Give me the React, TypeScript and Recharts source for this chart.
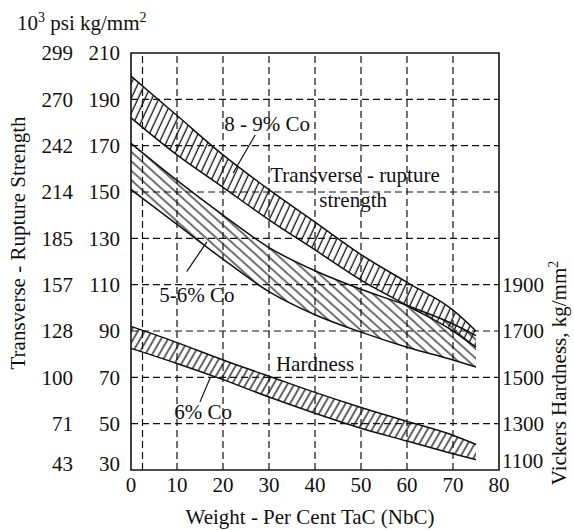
import {
  Area,
  ComposedChart,
  ReferenceArea,
  ReferenceDot,
  ReferenceLine,
  XAxis,
  YAxis,
} from "recharts";

const FONT = '"Liberation Serif", "Times New Roman", serif';
const INK = "#111";

// weight per cent TaC (NbC)
const pctTaC = [0, 10, 20, 30, 40, 50, 60, 70, 75];

// transverse-rupture strength, kg/mm2
const co89Upper = [200, 183, 166, 151, 137, 123, 111, 99, 90];
const co89Lower = [182, 166, 152, 138, 125, 112, 101, 90, 83];
const co56Upper = [171, 155, 140, 126, 116, 108, 101, 93, 88];
const co56Lower = [151, 136, 121, 107, 97, 89.5, 83, 77.5, 74.5];

// Vickers hardness, kg/mm2 (6% Co)
const hvUpper = [1720, 1650, 1575, 1505, 1435, 1370, 1310, 1250, 1210];
const hvLower = [1625, 1560, 1490, 1415, 1345, 1280, 1225, 1170, 1145];

const xTicks = [0, 10, 20, 30, 40, 50, 60, 70, 80];
const kgTicks = [30, 50, 70, 90, 110, 130, 150, 170, 190, 210];
const psiLabels = ["43", "71", "100", "128", "157", "185", "214", "242", "270", "299"];
const hvTicks = [1100, 1300, 1500, 1700, 1900];

const gridX = [2.5, 10, 20, 30, 40, 50, 60, 70];
const gridY = [50, 70, 90, 110, 130, 150, 170, 190];

const data = pctTaC.map((x, i) => ({
  x,
  co89: [co89Lower[i], co89Upper[i]],
  co56: [co56Lower[i], co56Upper[i]],
  hv: [hvLower[i], hvUpper[i]],
}));

const notes = [
  { x: 29.6, y: 179.3, text: "8 - 9% Co" },
  { x: 48.7, y: 157.3, text: "Transverse - rupture" },
  { x: 48.3, y: 146.5, text: "strength" },
  { x: 14.3, y: 105.5, text: "5-6% Co" },
  { x: 40, y: 75.8, text: "Hardness" },
  { x: 15.7, y: 55, text: "6% Co" },
];

const leaders = [
  [{ x: 27, y: 174.6 }, { x: 22.2, y: 158.2 }],
  [{ x: 16.5, y: 128.5 }, { x: 12.1, y: 115.6 }],
  [{ x: 17.2, y: 69.7 }, { x: 15, y: 59.4 }],
];

const txt = { fontFamily: FONT, fontSize: 21, fill: INK };

function LeftTick({ x, y, payload }: any) {
  const i = kgTicks.indexOf(payload.value);
  const shift = payload.value === 30 ? -6 : 0;
  return (
    <g>
      <text {...txt} x={x - 11} y={y + shift} dy="0.35em" textAnchor="end">
        {payload.value}
      </text>
      <text {...txt} x={x - 58} y={y + shift} dy="0.35em" textAnchor="end">
        {psiLabels[i]}
      </text>
    </g>
  );
}

function RightTick({ x, y, payload }: any) {
  const shift = payload.value === 1100 ? -9 : 0;
  return (
    <text {...txt} x={x + 3} y={y + shift} dy="0.35em" textAnchor="start">
      {payload.value}
    </text>
  );
}

function BottomTick({ x, y, payload }: any) {
  return (
    <text {...txt} x={x} y={y + 14.5} dy="0.35em" textAnchor="middle">
      {payload.value}
    </text>
  );
}

function Note({ cx, cy, text }: any) {
  return (
    <text {...txt} x={cx} y={cy} dy="0.35em" textAnchor="middle">
      {text}
    </text>
  );
}

export default function App() {
  return (
    <div style={{ position: "absolute", left: 0, top: 0, width: 574, height: 530, background: "#fff" }}>
      <ComposedChart
        width={574}
        height={530}
        data={data}
        margin={{ top: 53, right: 0, bottom: 0, left: 0 }}
      >
        <defs>
          <pattern id="hatch89" width="6.3" height="10" patternUnits="userSpaceOnUse" patternTransform="rotate(25)">
            <line x1="3" y1="0" x2="3" y2="10" stroke={INK} strokeWidth={1.3} />
          </pattern>
          <pattern id="hatch56" width="7" height="10" patternUnits="userSpaceOnUse" patternTransform="rotate(-48)">
            <line x1="3" y1="0" x2="3" y2="10" stroke={INK} strokeWidth={1.2} />
          </pattern>
          <pattern id="hatchHv" width="6" height="10" patternUnits="userSpaceOnUse" patternTransform="rotate(30)">
            <line x1="3" y1="0" x2="3" y2="10" stroke={INK} strokeWidth={1.3} />
          </pattern>
        </defs>

        <XAxis
          dataKey="x"
          type="number"
          domain={[0, 80]}
          ticks={xTicks}
          height={60}
          tickLine={false}
          tickSize={0}
          tickMargin={0}
          axisLine={false}
          tick={<BottomTick />}
        />
        <YAxis
          yAxisId="kg"
          orientation="left"
          type="number"
          domain={[30, 210]}
          ticks={kgTicks}
          width={131}
          tickLine={false}
          tickSize={0}
          tickMargin={0}
          axisLine={false}
          interval={0}
          tick={<LeftTick />}
        />
        <YAxis
          yAxisId="hv"
          orientation="right"
          type="number"
          domain={[1100, 2900]}
          ticks={hvTicks}
          width={75}
          tickLine={false}
          tickSize={0}
          tickMargin={0}
          axisLine={false}
          interval={0}
          tick={<RightTick />}
        />

        {gridX.map((gx) => (
          <ReferenceLine key={"gx" + gx} yAxisId="kg" x={gx} stroke={INK} strokeWidth={1.2} strokeDasharray="7 4" />
        ))}
        {gridY.map((gy) => (
          <ReferenceLine key={"gy" + gy} yAxisId="kg" y={gy} stroke={INK} strokeWidth={1.2} strokeDasharray="7 4" />
        ))}

        <Area
          yAxisId="kg"
          type="monotone"
          dataKey="co89"
          stroke={INK}
          strokeWidth={1.5}
          fill="url(#hatch89)"
          fillOpacity={1}
          dot={false}
          activeDot={false}
          isAnimationActive={false}
        />
        <Area
          yAxisId="kg"
          type="monotone"
          dataKey="co56"
          stroke={INK}
          strokeWidth={1.5}
          fill="url(#hatch56)"
          fillOpacity={1}
          dot={false}
          activeDot={false}
          isAnimationActive={false}
        />
        <Area
          yAxisId="hv"
          type="monotone"
          dataKey="hv"
          stroke={INK}
          strokeWidth={1.5}
          fill="url(#hatchHv)"
          fillOpacity={1}
          dot={false}
          activeDot={false}
          isAnimationActive={false}
        />

        {leaders.map((seg, i) => (
          <ReferenceLine key={"ld" + i} yAxisId="kg" segment={seg} stroke={INK} strokeWidth={1.2} />
        ))}
        {notes.map((n) => (
          <ReferenceDot
            key={n.text}
            yAxisId="kg"
            x={n.x}
            y={n.y}
            r={0}
            shape={(p: any) => <Note cx={p.cx} cy={p.cy} text={n.text} />}
          />
        ))}

        <ReferenceArea yAxisId="kg" x1={0} x2={80} y1={30} y2={210} fill="none" stroke={INK} strokeWidth={1.6} />
      </ComposedChart>

      <svg width={574} height={530} style={{ position: "absolute", left: 0, top: 0, pointerEvents: "none" }}>
        <text {...txt} x={17} y={30}>
          10<tspan fontSize={14} dy={-8}>3</tspan>
          <tspan dy={8}> psi kg/mm</tspan>
          <tspan fontSize={14} dy={-8}>2</tspan>
        </text>
        <text {...txt} textAnchor="middle" transform="translate(24.6, 243) rotate(-90)">
          Transverse - Rupture Strength
        </text>
        <text {...txt} textAnchor="middle" transform="translate(566, 373) rotate(-90)">
          Vickers Hardness, kg/mm<tspan fontSize={14} dy={-8}>2</tspan>
        </text>
        <text {...txt} x={310} y={524} textAnchor="middle">
          Weight - Per Cent TaC (NbC)
        </text>
      </svg>
    </div>
  );
}
